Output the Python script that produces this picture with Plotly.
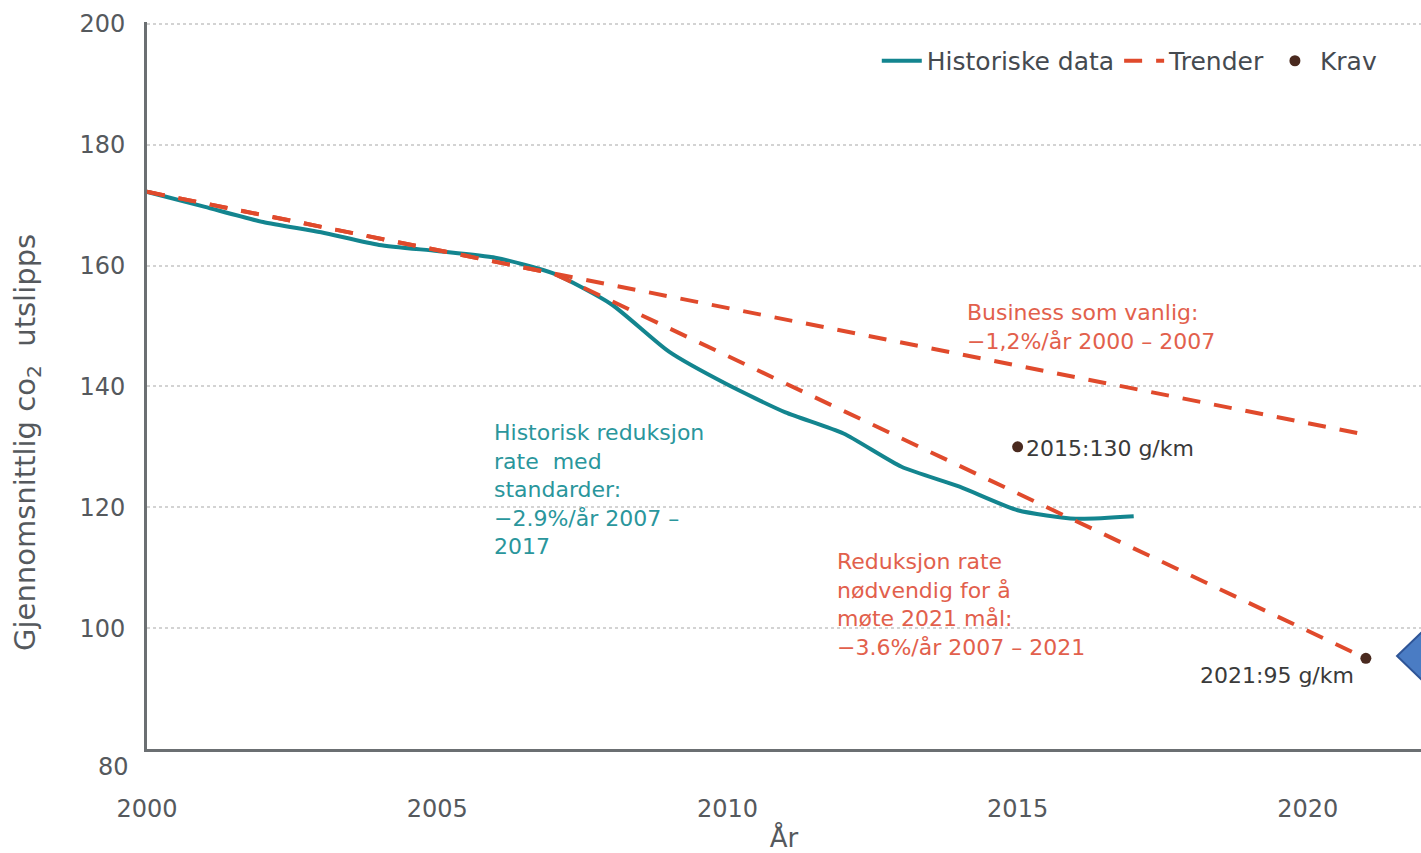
import plotly.graph_objects as go

# ---- data ----
hist_years = [2000, 2001, 2002, 2003, 2004, 2005, 2006, 2007, 2008, 2009,
              2010, 2011, 2012, 2013, 2014, 2015, 2016, 2017]
hist_values = [172.2, 169.7, 167.2, 165.5, 163.4, 162.4, 161.3, 158.7, 153.6,
               145.7, 140.3, 135.7, 132.2, 126.7, 123.4, 119.5, 118.1, 118.5]

bau_years = [2000, 2007, 2021]
bau_values = [172.2, 158.7, 132.0]

req_years = [2000, 2007, 2021]
req_values = [172.2, 158.7, 95.0]

krav_years = [2015, 2021]
krav_values = [130, 95]
krav_labels = ["2015:130 g/km", "2021:95 g/km"]

y_tickvals = [100, 120, 140, 160, 180, 200]
y_ticktext = ["100", "120", "140", "160", "180", "200"]
x_tickvals = [2000, 2005, 2010, 2015, 2020]
x_ticktext = ["2000", "2005", "2010", "2015", "2020"]

TEAL = "#13858f"
RED = "#e04a2c"
RED_TXT = "#e2604c"
TEAL_TXT = "#2a969c"
DOT = "#4a2a1f"
GREY = "#55595d"
FONT = "DejaVu Sans"

fig = go.Figure()

fig.add_trace(go.Scatter(
    x=hist_years, y=hist_values, mode="lines", name="Historiske data",
    line=dict(color=TEAL, width=4, smoothing=0.6), line_shape="spline"))
fig.add_trace(go.Scatter(
    x=bau_years, y=bau_values, mode="lines", name="Trender",
    line=dict(color=RED, width=4, dash="18px,14px"), legendgroup="tr"))
fig.add_trace(go.Scatter(
    x=req_years, y=req_values, mode="lines", name="Trender", showlegend=False,
    line=dict(color=RED, width=4, dash="18px,14px"), legendgroup="tr"))
fig.add_trace(go.Scatter(
    x=krav_years, y=krav_values, mode="markers", name="Krav",
    marker=dict(color=DOT, size=11)))

ann = []
ann.append(dict(x=krav_years[0], y=krav_values[0], text=krav_labels[0],
                xanchor="left", yanchor="middle", xshift=6, yshift=-2,
                showarrow=False, font=dict(color="#3a3a3a", size=22, family=FONT)))
ann.append(dict(x=krav_years[1], y=krav_values[1], text=krav_labels[1],
                xanchor="right", yanchor="middle", xshift=-10, yshift=-17,
                showarrow=False, font=dict(color="#3a3a3a", size=22, family=FONT)))
ann.append(dict(x=2014.1, y=149.8, text="Business som vanlig:<br>\u22121,2%/år 2000 \u2013 2007",
                xanchor="left", yanchor="middle", align="left", showarrow=False,
                font=dict(color=RED_TXT, size=22, family=FONT)))
ann.append(dict(x=2005.95, y=122.9,
                text="Historisk reduksjon<br>rate  med<br>standarder:<br>\u22122.9%/år 2007 \u2013<br>2017",
                xanchor="left", yanchor="middle", align="left", showarrow=False,
                font=dict(color=TEAL_TXT, size=22, family=FONT)))
ann.append(dict(x=2011.85, y=103.9,
                text="Reduksjon rate<br>nødvendig for å<br>møte 2021 mål:<br>\u22123.6%/år 2007 \u2013 2021",
                xanchor="left", yanchor="middle", align="left", showarrow=False,
                font=dict(color=RED_TXT, size=22, family=FONT)))
ann.append(dict(x=0, xref="paper", y=80, text="80", xanchor="right", yanchor="middle",
                xshift=-16, yshift=-18, showarrow=False,
                font=dict(color=GREY, size=24, family=FONT)))
# y-axis title (placed below the plot centre as in the original)
ann.append(dict(x=0, xref="paper", y=0.421, yref="paper",
                text="Gjennomsnittlig co<sub>2</sub>&nbsp; utslipps", textangle=-90,
                xanchor="center", yanchor="middle", xshift=-120, showarrow=False,
                font=dict(color=GREY, size=29, family=FONT)))

fig.update_layout(
    width=1421, height=853,
    margin=dict(l=147, r=0, t=22, b=104),
    paper_bgcolor="white", plot_bgcolor="white",
    font=dict(family=FONT, color=GREY, size=24),
    showlegend=True,
    legend=dict(orientation="h", x=0.97, xanchor="right", y=0.978, yanchor="top",
                font=dict(size=25, color="#454a50", family=FONT),
                bgcolor="rgba(0,0,0,0)", itemwidth=40),
    annotations=ann,
    xaxis=dict(range=[2000, 2021.95], tickvals=x_tickvals, ticktext=x_ticktext,
               showgrid=False, zeroline=False, showline=True, linecolor="#6b6f72",
               linewidth=3, ticks="", ticklabelstandoff=36, automargin=False,
               tickfont=dict(size=24, color=GREY),
               title=dict(text="År", font=dict(size=26, color=GREY), standoff=18)),
    yaxis=dict(range=[80, 200.3], tickvals=y_tickvals, ticktext=y_ticktext,
               showgrid=True, gridcolor="#d3d3d3", griddash="dot", gridwidth=2,
               zeroline=False, showline=True, linecolor="#6b6f72", linewidth=3,
               automargin=False,
               ticks="", ticklabelstandoff=14, tickfont=dict(size=24, color=GREY)),
    shapes=[dict(type="path", xref="paper", yref="paper",
                 path="M 0.9812 0.128 L 1.0047 0.1678 L 1.0047 0.088 Z",
                 fillcolor="#4a7cc4", line=dict(color="#2f5597", width=2))],
)

fig.write_html("out.html", config={"displayModeBar": False},
               post_script="document.body.style.margin='0';document.body.style.overflow='hidden';")
